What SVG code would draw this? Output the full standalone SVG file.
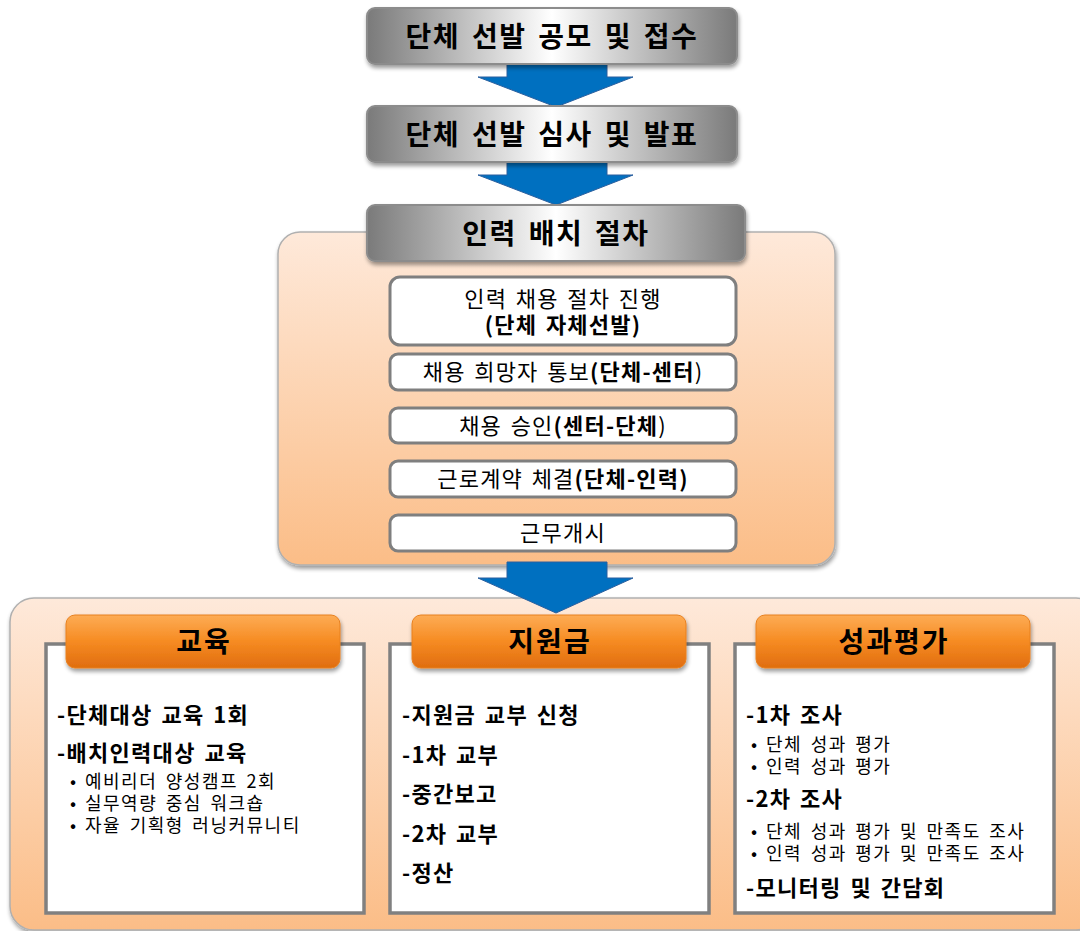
<svg xmlns="http://www.w3.org/2000/svg" width="1080" height="931" viewBox="0 0 1080 931">
<defs>
<linearGradient id="gray" x1="0" y1="0" x2="1" y2="0">
<stop offset="0" stop-color="#7a7a7a"/>
<stop offset="0.5" stop-color="#ffffff"/>
<stop offset="1" stop-color="#7a7a7a"/>
</linearGradient>
<linearGradient id="peach" x1="0" y1="0" x2="0" y2="1">
<stop offset="0" stop-color="#fee9da"/>
<stop offset="1" stop-color="#fbbd87"/>
</linearGradient>
<linearGradient id="orange" x1="0" y1="0" x2="0" y2="1">
<stop offset="0" stop-color="#fdac55"/>
<stop offset="0.5" stop-color="#f68b22"/>
<stop offset="1" stop-color="#e06d0f"/>
</linearGradient>
<filter id="sh" x="-10%" y="-10%" width="120%" height="130%">
<feGaussianBlur in="SourceAlpha" stdDeviation="2"/>
<feOffset dx="1" dy="3"/>
<feComponentTransfer><feFuncA type="linear" slope="0.4"/></feComponentTransfer>
<feMerge><feMergeNode/><feMergeNode in="SourceGraphic"/></feMerge>
</filter>
</defs>
<style>
text{font-family:"Noto Sans CJK KR","Noto Sans",sans-serif;fill:#000}
.hdr{fill:url(#gray);stroke:#8c8c8c;stroke-width:2}
.hdrt{font-size:28px;font-weight:bold;text-anchor:middle;letter-spacing:1.5px;word-spacing:4px}
.panel{fill:url(#peach);stroke:#b0b0b0;stroke-width:1.5}
.step{fill:#fff;stroke:#7f7f7f;stroke-width:3}
.stept{font-size:22px;text-anchor:middle;letter-spacing:1.2px;word-spacing:2.5px}
.b{font-weight:bold}
.card{fill:#fff;stroke:#808080;stroke-width:3.5}
.tab{fill:url(#orange);stroke:#e8801e;stroke-width:1}
.tabt{font-size:28px;font-weight:bold;text-anchor:middle;letter-spacing:2px}
.item{font-size:22px;font-weight:bold;letter-spacing:1.3px;word-spacing:2.5px}
.sub{font-size:18px;letter-spacing:1.5px;word-spacing:3px}
.arrow{fill:#0070c0;stroke:#2a5f9e;stroke-width:1}
</style>

<g id="panel-placement">
<rect class="panel" x="278" y="232" width="557" height="333" rx="22" filter="url(#sh)"/>
</g>
<g id="panel-bottom">
<rect class="panel" x="10" y="598" width="1090" height="332" rx="24" filter="url(#sh)"/>
</g>

<g id="connectors">
<path class="arrow" d="M507,64 L607,64 L607,77 L633,77 L556,107 L478,77 L507,77 Z"/>
<path class="arrow" d="M507,162 L607,162 L607,175 L633,175 L556,205 L478,175 L507,175 Z"/>
<path class="arrow" d="M507,562 L607,562 L607,578 L633,578 L556,613 L478,578 L507,578 Z"/>
</g>

<g id="node-recruit">
<rect class="hdr" x="367" y="8" width="370" height="56" rx="8" filter="url(#sh)"/>
<text class="hdrt" x="552" y="47">단체 선발 공모 및 접수</text>
</g>
<g id="node-review">
<rect class="hdr" x="367" y="106" width="370" height="56" rx="8" filter="url(#sh)"/>
<text class="hdrt" x="552" y="145">단체 선발 심사 및 발표</text>
</g>
<g id="node-placement">
<rect class="hdr" x="367" y="205" width="378" height="56" rx="8" filter="url(#sh)"/>
<text class="hdrt" x="556" y="244">인력 배치 절차</text>
</g>

<g id="step-1">
<rect class="step" x="390" y="277" width="346" height="68" rx="10"/>
<text class="stept" x="563" y="307">인력 채용 절차 진행</text>
<text class="stept b" x="563" y="333">(단체 자체선발)</text>
</g>
<g id="step-2">
<rect class="step" x="390" y="354" width="346" height="36" rx="8"/>
<text class="stept" x="563" y="380">채용 희망자 통보<tspan class="b">(단체-센터</tspan>)</text>
</g>
<g id="step-3">
<rect class="step" x="390" y="408" width="346" height="35" rx="8"/>
<text class="stept" x="563" y="434">채용 승인<tspan class="b">(센터-단체</tspan>)</text>
</g>
<g id="step-4">
<rect class="step" x="390" y="461" width="346" height="36" rx="8"/>
<text class="stept" x="563" y="487">근로계약 체결<tspan class="b">(단체-인력)</tspan></text>
</g>
<g id="step-5">
<rect class="step" x="390" y="515" width="346" height="36" rx="8"/>
<text class="stept" x="563" y="541">근무개시</text>
</g>

<g id="card-education">
<rect class="card" x="46" y="644" width="318" height="269"/>
<rect class="tab" x="66" y="615" width="274" height="53" rx="9" filter="url(#sh)"/>
<text class="tabt" x="204" y="652">교육</text>
<text class="item" x="57" y="723">-단체대상 교육 1회</text>
<text class="item" x="57" y="761">-배치인력대상 교육</text>
<text class="sub" x="70" y="788">•<tspan x="85">예비리더 양성캠프 2회</tspan></text>
<text class="sub" x="70" y="810">•<tspan x="85">실무역량 중심 워크숍</tspan></text>
<text class="sub" x="70" y="832">•<tspan x="85">자율 기획형 러닝커뮤니티</tspan></text>
</g>

<g id="card-grant">
<rect class="card" x="390" y="644" width="319" height="269"/>
<rect class="tab" x="412" y="615" width="274" height="53" rx="9" filter="url(#sh)"/>
<text class="tabt" x="550" y="652">지원금</text>
<text class="item" x="402" y="723">-지원금 교부 신청</text>
<text class="item" x="402" y="763">-1차 교부</text>
<text class="item" x="402" y="802">-중간보고</text>
<text class="item" x="402" y="842">-2차 교부</text>
<text class="item" x="402" y="881">-정산</text>
</g>

<g id="card-evaluation">
<rect class="card" x="735" y="644" width="319" height="269"/>
<rect class="tab" x="756" y="615" width="274" height="53" rx="9" filter="url(#sh)"/>
<text class="tabt" x="894" y="652">성과평가</text>
<text class="item" x="746" y="723">-1차 조사</text>
<text class="sub" x="751" y="751">•<tspan x="766">단체 성과 평가</tspan></text>
<text class="sub" x="751" y="773">•<tspan x="766">인력 성과 평가</tspan></text>
<text class="item" x="746" y="807">-2차 조사</text>
<text class="sub" x="751" y="838">•<tspan x="766">단체 성과 평가 및 만족도 조사</tspan></text>
<text class="sub" x="751" y="860">•<tspan x="766">인력 성과 평가 및 만족도 조사</tspan></text>
<text class="item" x="746" y="896">-모니터링 및 간담회</text>
</g>
</svg>
